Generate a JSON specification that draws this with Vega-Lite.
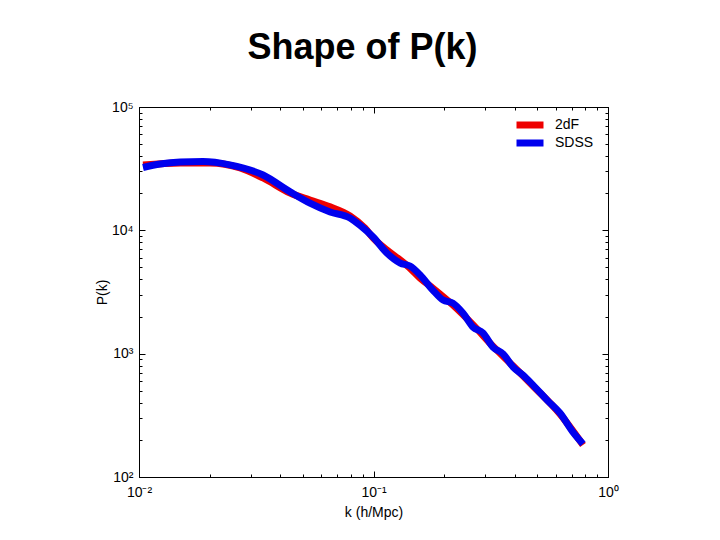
{
  "$schema": "https://vega.github.io/schema/vega-lite/v6.json",
  "width": 469,
  "height": 370,
  "autosize": {"type": "none"},
  "padding": {"left": 139, "top": 107, "right": 112, "bottom": 63},
  "title": {
    "text": "Shape of P(k)",
    "font": "Liberation Sans",
    "fontSize": 36,
    "fontWeight": "bold",
    "color": "black",
    "anchor": "middle",
    "dx": -11,
    "offset": 33
  },
  "config": {
    "font": "Liberation Sans",
    "background": "white",
    "view": {"stroke": "black", "strokeWidth": 1},
    "axis": {
      "grid": false,
      "domainColor": "black",
      "tickColor": "black",
      "labelColor": "black",
      "titleColor": "black",
      "labelFont": "Liberation Sans",
      "titleFont": "Liberation Sans",
      "labelFontSize": 14,
      "titleFontSize": 14,
      "titleFontWeight": "normal"
    }
  },
  "data": {
    "values": [
      {"survey": "2dF", "k": 0.0104, "P": 33900},
      {"survey": "2dF", "k": 0.0150, "P": 35200},
      {"survey": "2dF", "k": 0.0201, "P": 35200},
      {"survey": "2dF", "k": 0.0270, "P": 32000},
      {"survey": "2dF", "k": 0.0338, "P": 26600},
      {"survey": "2dF", "k": 0.0441, "P": 20100},
      {"survey": "2dF", "k": 0.0536, "P": 17600},
      {"survey": "2dF", "k": 0.0653, "P": 15500},
      {"survey": "2dF", "k": 0.0794, "P": 13100},
      {"survey": "2dF", "k": 0.0920, "P": 10400},
      {"survey": "2dF", "k": 0.0996, "P": 8670},
      {"survey": "2dF", "k": 0.114, "P": 6920},
      {"survey": "2dF", "k": 0.130, "P": 5740},
      {"survey": "2dF", "k": 0.143, "P": 4940},
      {"survey": "2dF", "k": 0.158, "P": 4100},
      {"survey": "2dF", "k": 0.179, "P": 3400},
      {"survey": "2dF", "k": 0.218, "P": 2480},
      {"survey": "2dF", "k": 0.266, "P": 1710},
      {"survey": "2dF", "k": 0.323, "P": 1150},
      {"survey": "2dF", "k": 0.394, "P": 793},
      {"survey": "2dF", "k": 0.479, "P": 546},
      {"survey": "2dF", "k": 0.624, "P": 324},
      {"survey": "2dF", "k": 0.782, "P": 182},
      {"survey": "SDSS", "k": 0.0104, "P": 32300},
      {"survey": "SDSS", "k": 0.0123, "P": 34500},
      {"survey": "SDSS", "k": 0.0150, "P": 35800},
      {"survey": "SDSS", "k": 0.01875, "P": 36100},
      {"survey": "SDSS", "k": 0.0244, "P": 33900},
      {"survey": "SDSS", "k": 0.0338, "P": 28100},
      {"survey": "SDSS", "k": 0.0441, "P": 20500},
      {"survey": "SDSS", "k": 0.0536, "P": 16600},
      {"survey": "SDSS", "k": 0.0653, "P": 14100},
      {"survey": "SDSS", "k": 0.0794, "P": 12600},
      {"survey": "SDSS", "k": 0.0876, "P": 11000},
      {"survey": "SDSS", "k": 0.0996, "P": 8830},
      {"survey": "SDSS", "k": 0.114, "P": 6550},
      {"survey": "SDSS", "k": 0.130, "P": 5430},
      {"survey": "SDSS", "k": 0.143, "P": 5130},
      {"survey": "SDSS", "k": 0.158, "P": 4340},
      {"survey": "SDSS", "k": 0.179, "P": 3280},
      {"survey": "SDSS", "k": 0.198, "P": 2720},
      {"survey": "SDSS", "k": 0.218, "P": 2570},
      {"survey": "SDSS", "k": 0.241, "P": 2130},
      {"survey": "SDSS", "k": 0.266, "P": 1640},
      {"survey": "SDSS", "k": 0.293, "P": 1470},
      {"survey": "SDSS", "k": 0.323, "P": 1130},
      {"survey": "SDSS", "k": 0.357, "P": 994},
      {"survey": "SDSS", "k": 0.394, "P": 778},
      {"survey": "SDSS", "k": 0.434, "P": 670},
      {"survey": "SDSS", "k": 0.479, "P": 556},
      {"survey": "SDSS", "k": 0.550, "P": 420},
      {"survey": "SDSS", "k": 0.624, "P": 330},
      {"survey": "SDSS", "k": 0.709, "P": 231},
      {"survey": "SDSS", "k": 0.782, "P": 185}
    ]
  },
  "layer": [
    {
      "mark": {"type": "line", "strokeWidth": 7, "interpolate": "monotone", "clip": true},
      "encoding": {
        "x": {
          "field": "k",
          "type": "quantitative",
          "scale": {"type": "log", "domain": [0.01, 1], "nice": false},
          "axis": {
            "orient": "bottom",
            "title": "k (h/Mpc)",
            "titlePadding": 6,
            "labelPadding": 14,
            "values": [0.01, 0.02, 0.03, 0.04, 0.05, 0.06, 0.07, 0.08, 0.09, 0.1, 0.2, 0.3, 0.4, 0.5, 0.6, 0.7, 0.8, 0.9, 1],
            "labelExpr": "datum.value == 0.01 ? '10⁻²' : datum.value == 0.1 ? '10⁻¹' : datum.value == 1 ? '10⁰' : ''",
            "tickSize": {"condition": {"test": "datum.value == 0.01 || datum.value == 0.1 || datum.value == 1", "value": -6}, "value": -3},
            "labelFlush": false
          }
        },
        "y": {
          "field": "P",
          "type": "quantitative",
          "scale": {"type": "log", "domain": [100, 100000], "nice": false},
          "axis": {
            "orient": "left",
            "title": "P(k)",
            "titlePadding": 2,
            "labelPadding": 12,
            "values": [100, 200, 300, 400, 500, 600, 700, 800, 900, 1000, 2000, 3000, 4000, 5000, 6000, 7000, 8000, 9000, 10000, 20000, 30000, 40000, 50000, 60000, 70000, 80000, 90000, 100000],
            "labelExpr": "datum.value == 100 ? '10²' : datum.value == 1000 ? '10³' : datum.value == 10000 ? '10⁴' : datum.value == 100000 ? '10⁵' : ''",
            "tickSize": {"condition": {"test": "datum.value == 100 || datum.value == 1000 || datum.value == 10000 || datum.value == 100000", "value": -6}, "value": -3},
            "labelFlush": false
          }
        },
        "color": {
          "field": "survey",
          "type": "nominal",
          "scale": {"domain": ["2dF", "SDSS"], "range": ["#ee0000", "#0000ee"]},
          "legend": {
            "title": null,
            "orient": "none",
            "legendX": 374,
            "legendY": 11,
            "symbolType": "stroke",
            "symbolSize": 729,
            "symbolStrokeWidth": 7,
            "clipHeight": 14,
            "labelFontSize": 14,
            "labelColor": "black",
            "labelFont": "Liberation Sans",
            "labelOffset": 8,
            "rowPadding": 4
          }
        }
      }
    },
    {
      "mark": {"type": "line", "opacity": 0},
      "encoding": {
        "x": {
          "field": "k",
          "type": "quantitative",
          "axis": {
            "orient": "top",
            "title": null,
            "labels": false,
            "values": [0.01, 0.02, 0.03, 0.04, 0.05, 0.06, 0.07, 0.08, 0.09, 0.1, 0.2, 0.3, 0.4, 0.5, 0.6, 0.7, 0.8, 0.9, 1],
            "tickSize": {"condition": {"test": "datum.value == 0.01 || datum.value == 0.1 || datum.value == 1", "value": -6}, "value": -3}
          }
        },
        "y": {
          "field": "P",
          "type": "quantitative",
          "axis": {
            "orient": "right",
            "title": null,
            "labels": false,
            "values": [100, 200, 300, 400, 500, 600, 700, 800, 900, 1000, 2000, 3000, 4000, 5000, 6000, 7000, 8000, 9000, 10000, 20000, 30000, 40000, 50000, 60000, 70000, 80000, 90000, 100000],
            "tickSize": {"condition": {"test": "datum.value == 100 || datum.value == 1000 || datum.value == 10000 || datum.value == 100000", "value": -6}, "value": -3}
          }
        },
        "detail": {"field": "survey"}
      }
    }
  ],
  "resolve": {"axis": {"x": "independent", "y": "independent"}}
}
